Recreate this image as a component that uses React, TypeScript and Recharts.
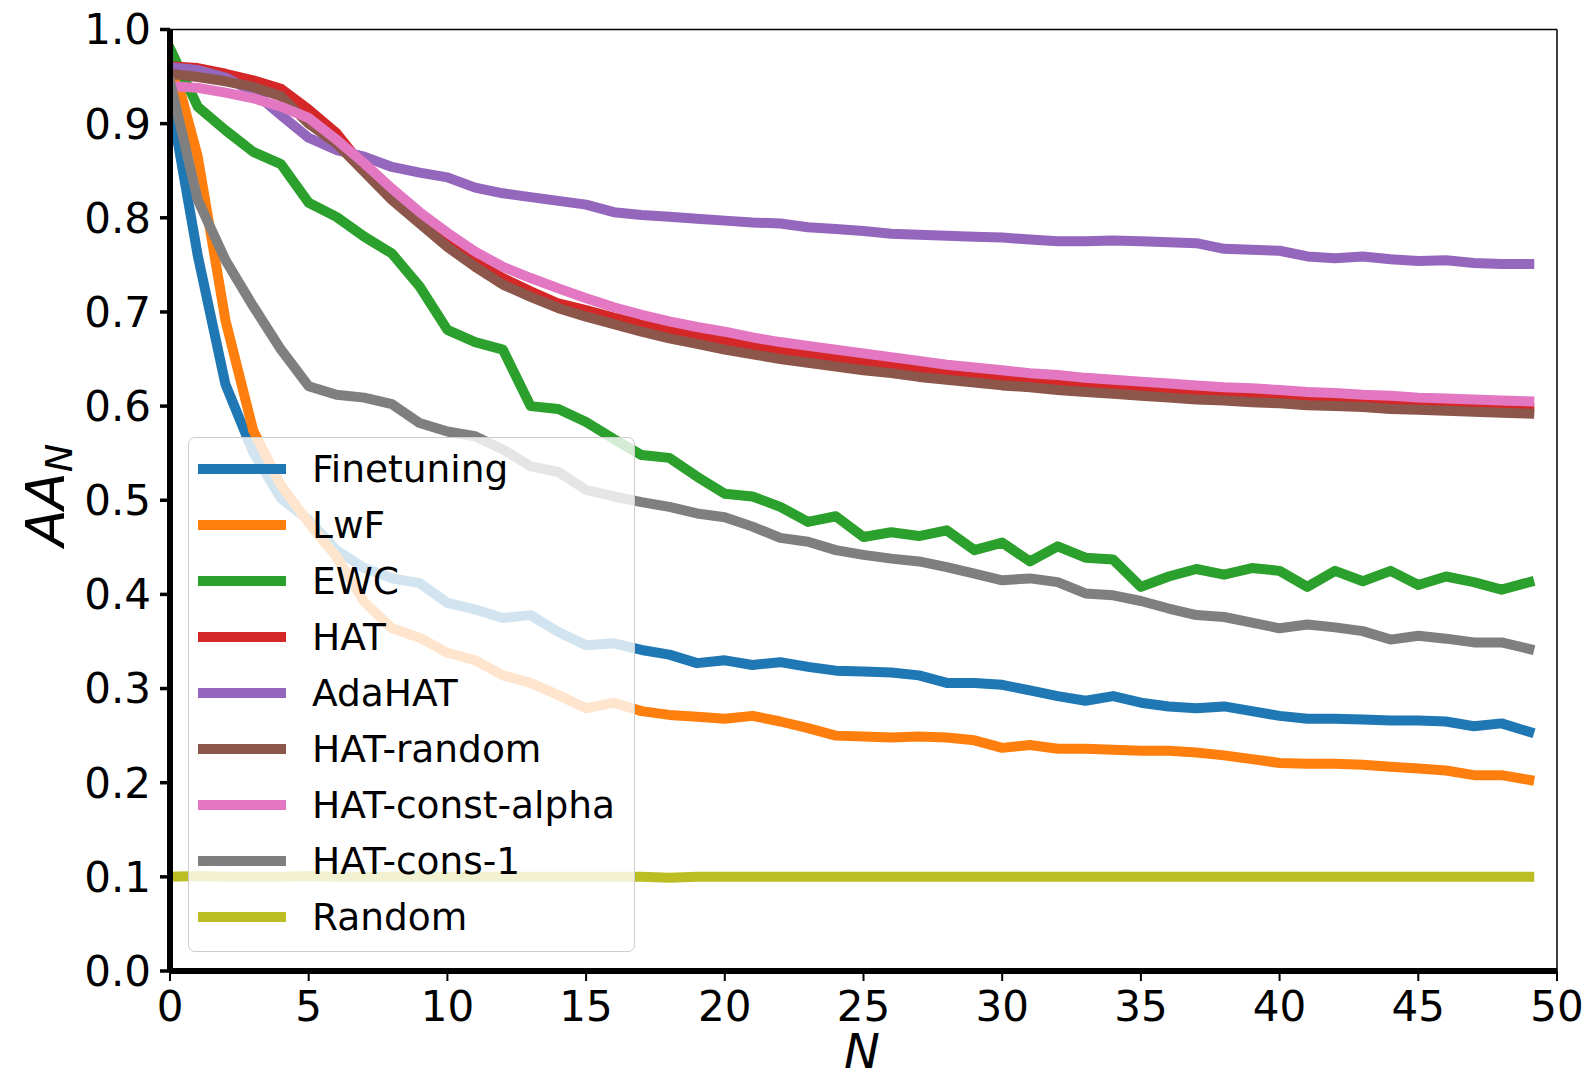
import { LineChart, Line, XAxis, YAxis, ReferenceLine } from 'recharts';

const steps = Array.from({ length: 50 }, (_, i) => i);

const finetuning = [0.928, 0.76, 0.623, 0.551, 0.502, 0.479, 0.447, 0.428, 0.417, 0.412, 0.391, 0.384, 0.375, 0.378, 0.36, 0.346, 0.348, 0.341, 0.336, 0.327, 0.33, 0.325, 0.328, 0.323, 0.319, 0.318, 0.317, 0.314, 0.306, 0.306, 0.304, 0.298, 0.292, 0.287, 0.292, 0.285, 0.281, 0.279, 0.281, 0.276, 0.271, 0.268, 0.268, 0.267, 0.266, 0.266, 0.265, 0.26, 0.263, 0.254];
const lwf = [0.975, 0.865, 0.691, 0.574, 0.516, 0.476, 0.44, 0.392, 0.364, 0.354, 0.338, 0.33, 0.314, 0.306, 0.293, 0.279, 0.285, 0.276, 0.272, 0.27, 0.268, 0.271, 0.265, 0.258, 0.25, 0.249, 0.248, 0.249, 0.248, 0.245, 0.237, 0.24, 0.236, 0.236, 0.235, 0.234, 0.234, 0.232, 0.229, 0.225, 0.221, 0.22, 0.22, 0.219, 0.217, 0.215, 0.213, 0.208, 0.208, 0.203];
const ewc = [0.98, 0.918, 0.893, 0.87, 0.857, 0.816, 0.801, 0.78, 0.762, 0.727, 0.681, 0.668, 0.66, 0.6, 0.597, 0.583, 0.565, 0.548, 0.545, 0.525, 0.507, 0.504, 0.493, 0.477, 0.483, 0.461, 0.466, 0.462, 0.468, 0.447, 0.455, 0.435, 0.451, 0.439, 0.437, 0.408, 0.419, 0.427, 0.421, 0.428, 0.425, 0.408, 0.425, 0.414, 0.425, 0.41, 0.419, 0.413, 0.405, 0.413];
const hat = [0.961, 0.959, 0.953, 0.946, 0.937, 0.915, 0.89, 0.853, 0.824, 0.798, 0.775, 0.753, 0.736, 0.722, 0.709, 0.702, 0.694, 0.687, 0.68, 0.674, 0.669, 0.664, 0.659, 0.655, 0.651, 0.647, 0.643, 0.639, 0.636, 0.633, 0.63, 0.627, 0.625, 0.622, 0.62, 0.618, 0.616, 0.614, 0.613, 0.611, 0.61, 0.608, 0.607, 0.605, 0.604, 0.602, 0.601, 0.6, 0.599, 0.598];
const adahat = [0.96, 0.957, 0.949, 0.934, 0.909, 0.885, 0.872, 0.865, 0.854, 0.848, 0.843, 0.832, 0.826, 0.822, 0.818, 0.814, 0.806, 0.803, 0.801, 0.799, 0.797, 0.795, 0.794, 0.79, 0.788, 0.786, 0.783, 0.782, 0.781, 0.78, 0.779, 0.777, 0.775, 0.775, 0.776, 0.775, 0.774, 0.773, 0.767, 0.766, 0.765, 0.759, 0.757, 0.759, 0.756, 0.754, 0.755, 0.752, 0.751, 0.751];
const hatRandom = [0.953, 0.9495, 0.945, 0.939, 0.929, 0.9, 0.879, 0.849, 0.819, 0.794, 0.769, 0.748, 0.729, 0.716, 0.704, 0.695, 0.687, 0.679, 0.672, 0.666, 0.66, 0.655, 0.65, 0.646, 0.642, 0.638, 0.635, 0.631, 0.628, 0.625, 0.622, 0.62, 0.617, 0.615, 0.613, 0.611, 0.609, 0.607, 0.606, 0.604, 0.603, 0.601, 0.6, 0.599, 0.597, 0.596, 0.595, 0.594, 0.593, 0.592];
const hatConstAlpha = [0.94, 0.938, 0.933, 0.927, 0.918, 0.906, 0.883, 0.858, 0.831, 0.806, 0.784, 0.764, 0.748, 0.736, 0.725, 0.7145, 0.705, 0.697, 0.69, 0.684, 0.679, 0.673, 0.668, 0.664, 0.66, 0.656, 0.652, 0.648, 0.644, 0.641, 0.638, 0.635, 0.633, 0.63, 0.628, 0.626, 0.624, 0.622, 0.62, 0.619, 0.617, 0.615, 0.614, 0.612, 0.611, 0.609, 0.608, 0.607, 0.606, 0.605];
const hatCons1 = [0.945, 0.819, 0.755, 0.706, 0.66, 0.621, 0.612, 0.609, 0.602, 0.582, 0.573, 0.568, 0.554, 0.536, 0.53, 0.511, 0.504, 0.498, 0.493, 0.486, 0.482, 0.472, 0.46, 0.456, 0.447, 0.442, 0.438, 0.435, 0.429, 0.422, 0.415, 0.417, 0.413, 0.401, 0.399, 0.393, 0.385, 0.378, 0.376, 0.37, 0.364, 0.368, 0.365, 0.361, 0.352, 0.356, 0.353, 0.349, 0.349, 0.342];
const random = [0.1, 0.101, 0.1, 0.1, 0.1, 0.101, 0.1, 0.1, 0.1, 0.1, 0.1, 0.1, 0.1, 0.1, 0.1, 0.1, 0.1, 0.1, 0.099, 0.1, 0.1, 0.1, 0.1, 0.1, 0.1, 0.1, 0.1, 0.1, 0.1, 0.1, 0.1, 0.1, 0.1, 0.1, 0.1, 0.1, 0.1, 0.1, 0.1, 0.1, 0.1, 0.1, 0.1, 0.1, 0.1, 0.1, 0.1, 0.1, 0.1, 0.1];

const xTicks = [0, 5, 10, 15, 20, 25, 30, 35, 40, 45, 50];
const yTicks = [0, 0.1, 0.2, 0.3, 0.4, 0.5, 0.6, 0.7, 0.8, 0.9, 1.0];

const series = [
  { key: 'Finetuning', values: finetuning, color: '#1f77b4' },
  { key: 'LwF', values: lwf, color: '#ff7f0e' },
  { key: 'EWC', values: ewc, color: '#2ca02c' },
  { key: 'HAT', values: hat, color: '#d62728' },
  { key: 'AdaHAT', values: adahat, color: '#9467bd' },
  { key: 'HAT-random', values: hatRandom, color: '#8c564b' },
  { key: 'HAT-const-alpha', values: hatConstAlpha, color: '#e377c2' },
  { key: 'HAT-cons-1', values: hatCons1, color: '#7f7f7f' },
  { key: 'Random', values: random, color: '#bcbd22' },
];

const data = steps.map((n, i) => {
  const row: Record<string, number> = { n };
  series.forEach((s) => {
    row[s.key] = s.values[i];
  });
  return row;
});

const FONT = '"DejaVu Sans", sans-serif';

const LegendBox = () => (
  <div
    style={{
      position: 'absolute',
      left: 188,
      top: 437,
      width: 447,
      height: 515,
      background: 'rgba(255,255,255,0.8)',
      border: '1.5px solid #cccccc',
      borderRadius: 7,
      boxSizing: 'border-box',
    }}
  >
    <svg width={444} height={512} style={{ display: 'block' }}>
      {series.map((s, i) => {
        const cy = 31 + i * 56;
        return (
          <g key={s.key}>
            <line x1={9} x2={97} y1={cy} y2={cy} stroke={s.color} strokeWidth={10} />
            <text x={123} y={cy} dominantBaseline="central" fontSize={37.5} fontFamily={FONT} fill="#000">
              {s.key}
            </text>
          </g>
        );
      })}
    </svg>
  </div>
);

export default function App() {
  return (
    <div style={{ position: 'absolute', left: 0, top: 0, width: 1594, height: 1081, background: '#fff' }}>
      <LineChart
        width={1594}
        height={1081}
        data={data}
        margin={{ top: 29.5, right: 37, bottom: 0, left: 0 }}
        style={{ fontFamily: FONT }}
      >
        <XAxis
          dataKey="n"
          type="number"
          domain={[0, 50]}
          ticks={xTicks}
          interval={0}
          height={110}
          axisLine={{ stroke: '#000', strokeWidth: 6 }}
          tickLine={{ stroke: '#000', strokeWidth: 2 }}
          tickSize={10}
          tickMargin={10}
          tick={{ fill: '#000', fontSize: 42, fontFamily: FONT }}
          allowDataOverflow
        />
        <YAxis
          type="number"
          domain={[0, 1]}
          ticks={yTicks}
          interval={0}
          width={170}
          axisLine={{ stroke: '#000', strokeWidth: 6 }}
          tickLine={{ stroke: '#000', strokeWidth: 3.5 }}
          tickSize={10}
          tickMargin={9}
          tickFormatter={(v: number) => v.toFixed(1)}
          tick={{ fill: '#000', fontSize: 42, fontFamily: FONT }}
          allowDataOverflow
        />
        <ReferenceLine y={1} stroke="#000" strokeWidth={1.5} />
        <ReferenceLine x={50} stroke="#000" strokeWidth={1.5} />
        {series.map((s) => (
          <Line
            key={s.key}
            dataKey={s.key}
            stroke={s.color}
            strokeWidth={10}
            dot={false}
            activeDot={false}
            strokeLinejoin="round"
            strokeLinecap="square"
            isAnimationActive={false}
          />
        ))}
      </LineChart>
      <LegendBox />
      <svg
        width={1594}
        height={1081}
        style={{ position: 'absolute', left: 0, top: 0, pointerEvents: 'none' }}
      >
        <text transform="translate(64,495) rotate(-90)" textAnchor="middle" fontFamily={FONT} fontSize={54} fill="#000">
          <tspan fontStyle="italic">AA</tspan>
          <tspan fontStyle="italic" fontSize={38} dy={8}>N</tspan>
        </text>
        <text x={862} y={1068} textAnchor="middle" fontFamily={FONT} fontSize={48} fontStyle="italic" fill="#000">
          N
        </text>
      </svg>
    </div>
  );
}
